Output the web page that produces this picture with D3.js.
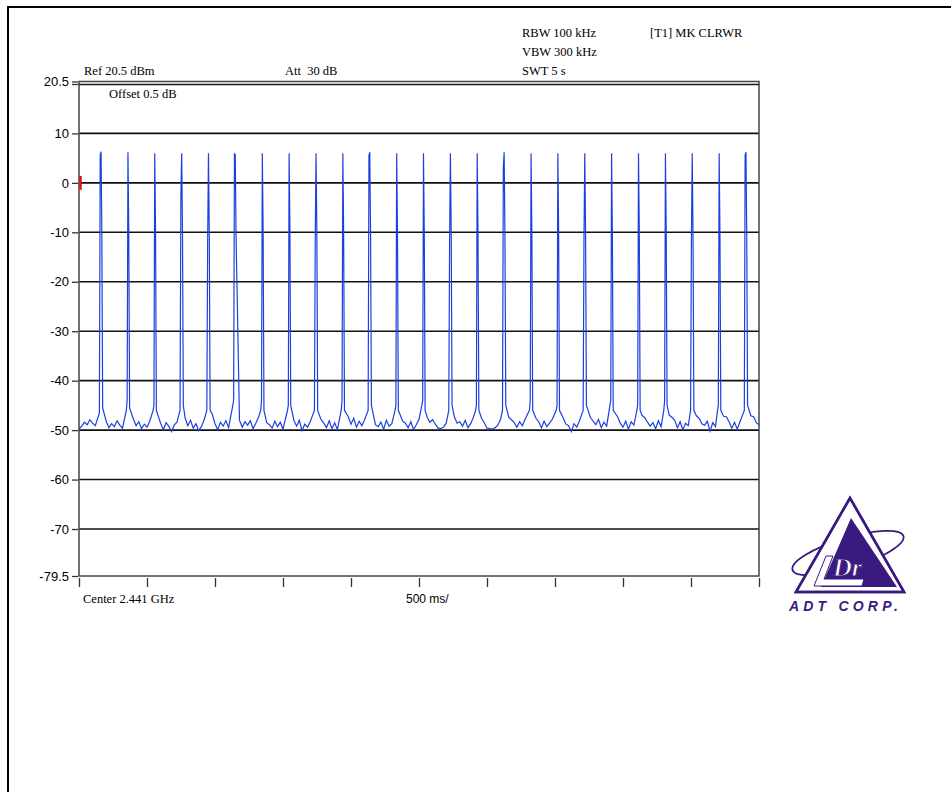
<!DOCTYPE html>
<meta charset="utf-8">
<script src="https://d3js.org/d3.v7.min.js"></script>
<style>
  body { margin: 0; background: #fff; }
  svg text { fill: #000; }
</style>
<div id="chart"></div>
<script>
// hop centres (ms from sweep start) and the trace levels around each hop (dBm)
const hopTimes = [162, 360, 557, 755, 952, 1143, 1348, 1545, 1743, 1940, 2138, 2336, 2533,
                  2731, 2928, 3126, 3324, 3521, 3719, 3916, 4114, 4312, 4509, 4707, 4904];
const hopPre2  = [-46.5, -46, -46, -46, -46, -45, -46, -46, -46, -46, -46, -46, -45,
                  -46, -46, -46, -46, -46, -46, -45, -46, -46, -46, -46, -46];
const hopPre1  = [5.6, -44, -45, -3, -12, -44, -44, -45, -12.4, -44, 5.5, -45, -44,
                  -12, -45, 3, -44, -45, -12, -44, -45, -44, -12, -45, 5.6];
const hopPeak  = [6.3, 6.2, 6.0, 6.0, 6.0, 6.0, 6.0, 6.0, 6.0, 6.0, 6.2, 6.0, 6.0,
                  6.0, 6.0, 6.2, 6.0, 6.0, 6.0, 6.0, 6.0, 6.0, 6.0, 6.0, 6.2];
const hopPost1 = [-10.5, -10.5, -10.5, -10.5, -10.7, 5.6, -10.5, -10.5, -10.5, -11, -11, -11, -11,
                  -11, -11, -11, -11, -11, -11, -11, -11, -11, -11, -11, -11];
const hopPost2 = [-45.5, -45.5, -46, -45, -46, -11, -46, -45, -46, -46, -45, -46, -46,
                  -45, -46, -45, -46, -46, -45, -46, -46, -45, -46, -46, -45];

// noise floor, one reading every 20 ms (0 .. 5000 ms), dBm
const floorStep = 20;
const floorLevels = [
  -49.8, -49.2, -48.4, -48.9, -47.9, -48.6, -49.1, -47.6, -46.5, -46.8,
  -48.2, -49.5, -48.7, -49.3, -48.1, -49.0, -49.6, -48.3, -47.0, -46.5,
  -47.8, -49.1, -48.3, -49.7, -48.8, -49.4, -48.2, -47.5, -46.9, -47.4,
  -48.6, -49.9, -48.5, -49.2, -50.3, -49.0, -48.4, -47.2, -47.0, -47.5,
  -49.1, -48.0, -49.6, -48.7, -50.1, -49.3, -47.9, -47.1, -47.0, -46.8,
  -48.7, -49.9, -48.4, -49.2, -48.1, -49.5, -47.6, -47.3, -47.5, -48.0,
  -49.4, -48.3, -49.0, -48.1, -49.7, -48.6, -47.4, -47.0, -47.2, -48.5,
  -48.9, -49.6, -48.2, -49.3, -48.4, -49.8, -47.5, -47.1, -47.3, -48.0,
  -49.2, -48.0, -50.1, -48.8, -49.4, -48.3, -47.6, -47.0, -47.1, -47.9,
  -48.6, -49.5, -48.1, -49.7, -48.5, -49.9, -48.3, -47.2, -47.0, -47.3,
  -48.8, -47.6, -49.4, -48.2, -49.1, -47.9, -47.2, -47.1, -47.5, -48.9,
  -49.3, -48.4, -49.8, -48.0, -49.2, -48.7, -47.4, -47.0, -47.3, -48.2,
  -48.6, -49.5, -48.3, -49.9, -48.9, -47.8, -47.2, -47.0, -47.4, -48.4,
  -47.9, -48.8, -49.6, -49.7, -49.4, -48.6, -47.2, -47.0, -47.3, -48.6,
  -48.3, -49.2, -48.0, -49.5, -48.7, -47.4, -47.0, -47.0, -47.6, -48.5,
  -49.6, -49.7, -49.8, -49.5, -49.0, -47.8, -47.2, -47.0, -47.4, -47.9,
  -48.5, -49.4, -48.3, -49.1, -47.8, -47.3, -47.0, -47.2, -47.6, -48.3,
  -49.5, -48.2, -49.3, -48.6, -47.8, -47.4, -47.0, -47.2, -47.5, -48.8,
  -49.1, -50.3, -48.7, -49.4, -48.1, -47.5, -47.0, -47.1, -47.4, -48.2,
  -48.9, -47.8, -49.5, -48.4, -49.2, -47.6, -47.1, -47.0, -47.3, -48.6,
  -49.4, -48.2, -49.8, -48.3, -49.0, -47.7, -47.2, -47.0, -47.5, -48.4,
  -49.2, -48.5, -49.7, -48.1, -49.3, -47.6, -47.1, -47.0, -47.4, -48.0,
  -49.5, -48.3, -49.9, -48.6, -49.1, -47.5, -47.0, -47.1, -47.6, -48.7,
  -49.0, -48.2, -50.2, -48.5, -49.3, -47.6, -47.0, -47.2, -47.3, -48.3,
  -49.6, -48.4, -49.8, -48.3, -48.9, -47.4, -47.0, -47.1, -47.3, -48.5,
  -48.9
];

const yTicks = [20.5, 10, 0, -10, -20, -30, -40, -50, -60, -70, -79.5];
const yTickLabels = ["20.5", "10", "0", "-10", "-20", "-30", "-40", "-50", "-60", "-70", "-79.5"];
const yGrid = [10, 0, -10, -20, -30, -40, -50, -60, -70];
const xTicks = [0, 500, 1000, 1500, 2000, 2500, 3000, 3500, 4000, 4500, 5000];

const headerLines = [
  {text: "RBW 100 kHz", x: 522, y: 37},
  {text: "VBW 300 kHz", x: 522, y: 56},
  {text: "SWT 5 s", x: 522, y: 75},
  {text: "[T1] MK CLRWR", x: 650, y: 37},
  {text: "Ref 20.5 dBm", x: 84, y: 75},
  {text: "Att  30 dB", x: 285, y: 75},
  {text: "Offset 0.5 dB", x: 109, y: 98}
];

const W = 951, H = 792;
const svg = d3.select("#chart").append("svg")
  .attr("width", W).attr("height", H);

// page border (left and top)
svg.append("path")
  .attr("d", `M8,${H} V7 H${W}`)
  .attr("fill", "none").attr("stroke", "#000").attr("stroke-width", 2);

const x = d3.scaleLinear().domain([0, 5000]).range([79, 759]);
const y = d3.scaleLinear().domain([-79.5, 20.5]).range([576, 81.5]);

// grid
svg.append("g").selectAll("line").data(yGrid).join("line")
  .attr("x1", x(0)).attr("x2", x(5000))
  .attr("y1", d => y(d)).attr("y2", d => y(d))
  .attr("stroke", "#111").attr("stroke-width", 1.6);

// frame with double top line
svg.append("rect")
  .attr("x", x(0)).attr("y", y(20.5))
  .attr("width", x(5000) - x(0)).attr("height", y(-79.5) - y(20.5))
  .attr("fill", "none").attr("stroke", "#444").attr("stroke-width", 1.5);
svg.append("line")
  .attr("x1", x(0)).attr("x2", x(5000))
  .attr("y1", y(20.5) + 3).attr("y2", y(20.5) + 3)
  .attr("stroke", "#1a1a1a").attr("stroke-width", 1.5);

// y axis
const yAxis = svg.append("g")
  .attr("transform", `translate(${x(0) - 1},0)`)
  .call(d3.axisLeft(y).tickValues(yTicks).tickSize(6).tickPadding(3)
    .tickFormat((d, i) => yTickLabels[i]));
yAxis.select(".domain").remove();
yAxis.selectAll("line").attr("stroke", "#333").attr("stroke-width", 1.3);
yAxis.selectAll("text")
  .attr("font-family", "Liberation Sans, Arial, sans-serif")
  .attr("font-size", 13);
// second tick for the double reference line
yAxis.append("line")
  .attr("x1", -6).attr("x2", 0)
  .attr("y1", y(20.5) + 3).attr("y2", y(20.5) + 3)
  .attr("stroke", "#333").attr("stroke-width", 1.3);

// x axis ticks
const xAxis = svg.append("g")
  .attr("transform", `translate(0,${y(-79.5) + 2})`)
  .call(d3.axisBottom(x).tickValues(xTicks).tickSize(9).tickFormat(""));
xAxis.select(".domain").remove();
xAxis.selectAll("line").attr("stroke", "#333").attr("stroke-width", 1.3);

// header / footer texts
svg.append("g").selectAll("text").data(headerLines).join("text")
  .attr("x", d => d.x).attr("y", d => d.y)
  .attr("font-family", "Liberation Serif, Times New Roman, serif")
  .attr("font-size", 12.5)
  .style("white-space", "pre")
  .text(d => d.text);

svg.append("text")
  .attr("x", 83).attr("y", 603)
  .attr("font-family", "Liberation Serif, Times New Roman, serif")
  .attr("font-size", 12.5)
  .text("Center 2.441 GHz");
svg.append("text")
  .attr("x", 406).attr("y", 603)
  .attr("font-family", "Liberation Sans, Arial, sans-serif")
  .attr("font-size", 12)
  .text("500 ms/");

// trace: noise floor plus the hop bursts
const pts = [];
floorLevels.forEach((v, i) => {
  const t = i * floorStep;
  if (hopTimes.every(h => Math.abs(t - h) >= 25)) pts.push([t, v]);
});
hopTimes.forEach((h, i) => {
  pts.push([h - 12, hopPre2[i]]);
  pts.push([h - 6, hopPre1[i]]);
  pts.push([h, hopPeak[i]]);
  pts.push([h + 6, hopPost1[i]]);
  pts.push([h + 12, hopPost2[i]]);
});
pts.sort((a, b) => a[0] - b[0]);

svg.append("path")
  .datum(pts)
  .attr("fill", "none")
  .attr("stroke", "#1c3fe0")
  .attr("stroke-width", 1.2)
  .attr("d", d3.line().x(d => x(d[0])).y(d => y(d[1])));

// marker at 0 dB on the left edge
svg.append("line")
  .attr("x1", x(0) + 1.5).attr("x2", x(0) + 1.5)
  .attr("y1", y(1.4)).attr("y2", y(-1.4))
  .attr("stroke", "#e01010").attr("stroke-width", 2.5);

// ADT logo
const purple = "#3a1a80";
const logo = svg.append("g");
logo.append("ellipse")
  .attr("cx", 848).attr("cy", 553).attr("rx", 58).attr("ry", 15)
  .attr("transform", "rotate(-17 848 553)")
  .attr("fill", "none").attr("stroke", purple).attr("stroke-width", 1.8);
logo.append("path")
  .attr("d", "M850,498 L904,592 L796,592 Z")
  .attr("fill", "#fff").attr("stroke", purple).attr("stroke-width", 2.5);
logo.append("path")
  .attr("d", "M851,518 L897,587 L821,587 Z")
  .attr("fill", purple);
// white L stroke
logo.append("path")
  .attr("d", "M826,556 L814,586 L862,586 L864,579 L824,579 L833,556 Z")
  .attr("fill", "#fff").attr("stroke", purple).attr("stroke-width", 1);
logo.append("text")
  .attr("x", 833).attr("y", 576)
  .attr("font-family", "Liberation Serif, serif")
  .attr("font-weight", "bold").attr("font-style", "italic")
  .attr("font-size", 26)
  .attr("stroke", purple).attr("stroke-width", 1)
  .style("fill", "#fff")
  .text("Dr");
logo.append("path")
  .attr("d", "M850,498 L904,592 L796,592 Z")
  .attr("fill", "none").attr("stroke", purple).attr("stroke-width", 2.5);
logo.append("text")
  .attr("x", 789).attr("y", 611)
  .attr("font-family", "Liberation Sans, Arial, sans-serif")
  .attr("font-weight", "bold").attr("font-style", "italic")
  .attr("font-size", 14)
  .attr("letter-spacing", 4.2)
  .style("fill", purple)
  .text("ADT CORP.");
</script>
